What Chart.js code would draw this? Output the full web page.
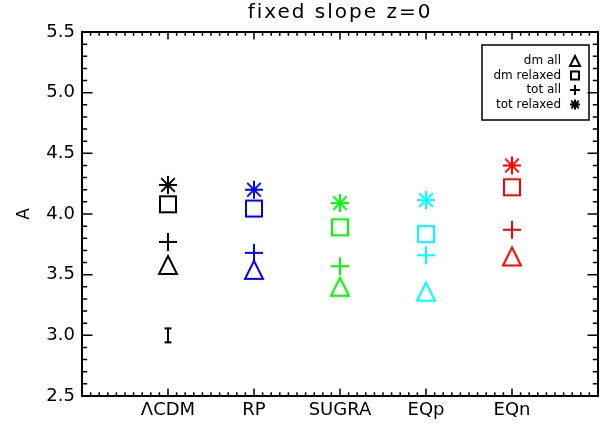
<!DOCTYPE html>
<html><head><meta charset="utf-8">
<script src="https://cdn.jsdelivr.net/npm/chart.js@4.4.1/dist/chart.umd.min.js"></script>
<style>html,body{margin:0;padding:0;background:#fff}canvas{display:block}</style>
</head><body>
<canvas id="c" width="612" height="434"></canvas>
<script>
// ---- data ----
const categories = ['ΛCDM', 'RP', 'SUGRA', 'EQp', 'EQn'];
const categoryPositions = [1, 2, 3, 4, 5];
const modelColors = ['#000000', '#0000ff', '#00ff00', '#00ffff', '#ff0000'];
const seriesLabels = ['dm all', 'dm relaxed', 'tot all', 'tot relaxed'];
const dmAll = [3.58, 3.54, 3.40, 3.36, 3.65];
const dmRelaxed = [4.08, 4.045, 3.89, 3.835, 4.22];
const totAll = [3.77, 3.68, 3.57, 3.66, 3.87];
const totRelaxed = [4.24, 4.20, 4.09, 4.115, 4.40];
const errorBarX = [1];
const errorBarY = [3.0];
const yTickLabels = ['2.5', '3.0', '3.5', '4.0', '4.5', '5.0', '5.5'];
const xRange = [0, 6];
const yRange = [2.5, 5.5];

// ---- marker images ----
function marker(shape, color, size, lw) {
  const c = document.createElement('canvas');
  const s = size + 8; c.width = s; c.height = s;
  const g = c.getContext('2d');
  g.strokeStyle = color; g.lineWidth = lw; g.lineJoin = 'miter';
  const m = s / 2, h = size / 2;
  g.beginPath();
  if (shape === 'triangle') {
    g.moveTo(m, m - h); g.lineTo(m + h, m + h); g.lineTo(m - h, m + h); g.closePath();
  } else if (shape === 'square') {
    g.rect(m - h + lw / 2, m - h + lw / 2, size - lw, size - lw);
  } else if (shape === 'plus') {
    g.moveTo(m, m - h); g.lineTo(m, m + h); g.moveTo(m - h, m); g.lineTo(m + h, m);
  } else if (shape === 'asterisk') {
    const d = h * 0.76;
    g.moveTo(m, m - h); g.lineTo(m, m + h); g.moveTo(m - h, m); g.lineTo(m + h, m);
    g.moveTo(m - d, m - d); g.lineTo(m + d, m + d); g.moveTo(m - d, m + d); g.lineTo(m + d, m - d);
  } else if (shape === 'ibar') {
    const w = 3.5;
    g.moveTo(m - w, m - h); g.lineTo(m + w, m - h);
    g.moveTo(m, m - h); g.lineTo(m, m + h);
    g.moveTo(m - w, m + h); g.lineTo(m + w, m + h);
  }
  g.stroke();
  return c;
}

const shapes = ['triangle', 'square', 'plus', 'asterisk'];
const seriesValues = [dmAll, dmRelaxed, totAll, totRelaxed];

const datasets = seriesValues.map((vals, k) => ({
  label: seriesLabels[k],
  data: vals.map((v, i) => ({ x: categoryPositions[i], y: v })),
  showLine: false,
  pointStyle: modelColors.map(col => marker(shapes[k], col, 18, 2)),
  pointRadius: 9,
  pointHoverRadius: 9,
  inLegend: true,
  legendSymbol: marker(shapes[k], '#000', 10, 2)
}));
datasets.push({
  label: 'error',
  data: errorBarX.map((x, i) => ({ x: x, y: errorBarY[i] })),
  showLine: false,
  pointStyle: marker('ibar', '#000', 14, 2),
  pointRadius: 7,
  inLegend: false
});

const FONT = 'DejaVu Sans';

const bgPlugin = {
  id: 'bg',
  beforeDraw(chart) {
    const ctx = chart.ctx; ctx.save(); ctx.fillStyle = '#fff';
    ctx.fillRect(0, 0, chart.width, chart.height); ctx.restore();
  }
};

const framePlugin = {
  id: 'frame',
  afterDraw(chart) {
    const { ctx, chartArea: a, scales: { x, y } } = chart;
    ctx.save();
    ctx.strokeStyle = '#000';
    ctx.lineWidth = 1.5;
    ctx.beginPath();
    for (let i = xRange[0] * 10; i <= xRange[1] * 10; i++) {
      const px = x.getPixelForValue(i / 10);
      const len = (i % 10 === 0) ? 7.5 : 3.7;
      ctx.moveTo(px, a.bottom); ctx.lineTo(px, a.bottom - len);
      ctx.moveTo(px, a.top); ctx.lineTo(px, a.top + len);
    }
    for (let i = Math.round(yRange[0] * 10); i <= Math.round(yRange[1] * 10); i++) {
      const py = y.getPixelForValue(i / 10);
      const len = (i % 5 === 0) ? 10.5 : 5.2;
      ctx.moveTo(a.left, py); ctx.lineTo(a.left + len, py);
      ctx.moveTo(a.right, py); ctx.lineTo(a.right - len, py);
    }
    ctx.stroke();
    ctx.lineWidth = 2;
    ctx.strokeRect(a.left, a.top, a.right - a.left, a.bottom - a.top);
    ctx.restore();
  }
};

const legendPlugin = {
  id: 'boxLegend',
  afterDraw(chart) {
    const { ctx, chartArea: a } = chart;
    const items = chart.data.datasets.filter(d => d.inLegend);
    const right = a.right - 9, top = a.top + 13, w = 107, h = 75;
    ctx.save();
    ctx.lineWidth = 1.5; ctx.strokeStyle = '#000';
    ctx.strokeRect(right - w, top, w, h);
    ctx.font = '12px "' + FONT + '"';
    ctx.textAlign = 'right'; ctx.textBaseline = 'middle'; ctx.fillStyle = '#000';
    items.forEach((d, i) => {
      const yy = top + 16 + i * 14.5;
      ctx.fillText(d.label, right - 28, yy);
      const img = d.legendSymbol;
      ctx.drawImage(img, right - 14 - img.width / 2, yy - img.height / 2);
    });
    ctx.restore();
  }
};

const chart = new Chart(document.getElementById('c'), {
  type: 'scatter',
  data: { datasets },
  options: {
    responsive: false,
    animation: false,
    events: [],
    layout: { padding: { left: 0, right: 14, top: 0, bottom: 0 } },
    plugins: {
      legend: { display: false },
      tooltip: { enabled: false },
      title: {
        display: true,
        fullSize: false,
        text: 'fixed slope z=0',
        color: '#000',
        font: { family: FONT, size: 20, weight: 'normal', lineHeight: 1 },
        padding: { top: 3, bottom: 9 }
      }
    },
    scales: {
      x: {
        type: 'linear', min: xRange[0], max: xRange[1],
        grid: { display: false, drawTicks: false },
        border: { display: false },
        afterBuildTicks: s => { s.ticks = categoryPositions.map(v => ({ value: v })); },
        ticks: {
          autoSkip: false, maxRotation: 0, padding: 4, color: '#000',
          font: { family: FONT, size: 18 },
          callback: (v, i) => categories[i]
        },
        afterFit: s => { s.height = 38; }
      },
      y: {
        type: 'linear', min: yRange[0], max: yRange[1],
        grid: { display: false, drawTicks: false },
        border: { display: false },
        afterBuildTicks: s => { s.ticks = yTickLabels.map(t => ({ value: parseFloat(t) })); },
        ticks: {
          autoSkip: false, padding: 7, color: '#000',
          font: { family: FONT, size: 18 },
          callback: (v, i) => yTickLabels[i]
        },
        title: {
          display: true, text: 'A', color: '#000',
          font: { family: FONT, size: 17 },
          padding: { top: 14, bottom: 0 }
        },
        afterFit: s => { s.width = 82; }
      }
    }
  },
  plugins: [bgPlugin, framePlugin, legendPlugin]
});

// give the title the wide letter spacing of the reference
if (chart.titleBlock) {
  const tb = chart.titleBlock;
  const orig = tb.draw.bind(tb);
  tb.draw = function (area) {
    const c = this.ctx; c.save();
    try { c.letterSpacing = '2px'; } catch (e) {}
    orig(area); c.restore();
  };
  chart.draw();
}
</script>
</body></html>
